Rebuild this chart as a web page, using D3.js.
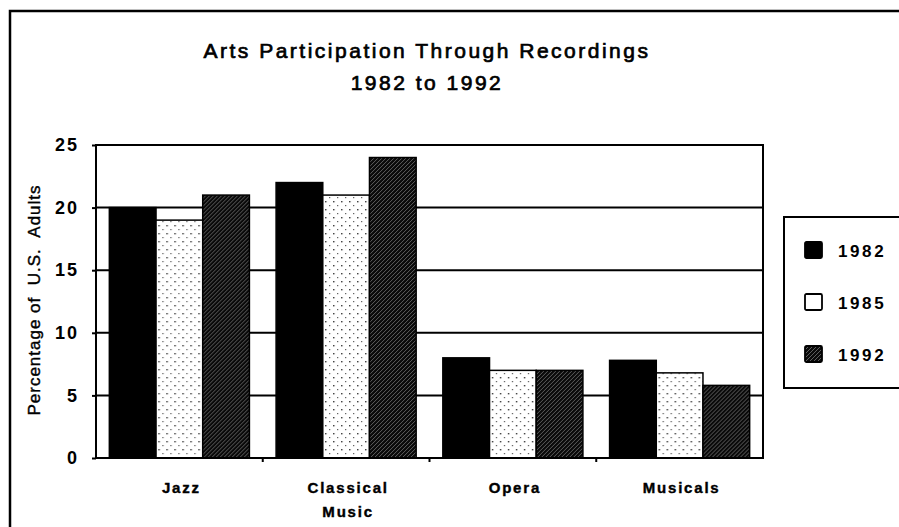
<!DOCTYPE html>
<html>
<head>
<meta charset="utf-8">
<script src="https://cdn.jsdelivr.net/npm/d3@7"></script>
<style>
  body { margin:0; background:white; }
  svg { display:block; }
  text { font-family:"Liberation Sans", Arial, sans-serif; fill:black; }
</style>
</head>
<body>
<svg id="chart"></svg>
<script>
var categories = ['Jazz', 'Classical Music', 'Opera', 'Musicals']
var years = ['1982', '1985', '1992']
var v1982 = [20, 22, 8, 7.8]
var v1985 = [19, 21, 7, 6.8]
var v1992 = [21, 24, 7, 5.8]
var yTicks = [0, 5, 10, 15, 20, 25]
var titleLines = ['Arts Participation Through Recordings', '1982 to 1992']
var yLabel = 'Percentage of  U.S.  Adults'

var width = 899, height = 527
var plot = {left:96, right:763, top:145, bottom:458}

var series = [v1982, v1985, v1992]
var fills = ['black', 'url(#dots)', 'url(#hatch)']

var svg = d3.select('#chart').attr('width', width).attr('height', height)

// patterns for the scanned fills
var defs = svg.append('defs')
var dots = defs.append('pattern').attr('id','dots')
  .attr('patternUnits','userSpaceOnUse').attr('width',8).attr('height',8)
dots.append('rect').attr('width',8).attr('height',8).attr('fill','white')
dots.append('rect').attr('x',1).attr('y',1).attr('width',1.4).attr('height',1.4).attr('fill','#333')
dots.append('rect').attr('x',5).attr('y',5).attr('width',1.2).attr('height',1.2).attr('fill','#555')

var hatch = defs.append('pattern').attr('id','hatch')
  .attr('patternUnits','userSpaceOnUse').attr('width',4).attr('height',4)
hatch.append('rect').attr('width',4).attr('height',4).attr('fill','#0a0a0a')
hatch.append('path').attr('d','M-1,1 l2,-2 M0,4 l4,-4 M3,5 l2,-2')
  .attr('stroke','#999').attr('stroke-width',0.6)

// outer frame of the page
svg.append('path')
  .attr('d','M10,' + height + ' V11 H' + width)
  .attr('fill','none').attr('stroke','black').attr('stroke-width',2.5)

// scales
var x0 = d3.scaleBand().domain(categories).range([plot.left, plot.right])
  .paddingInner(0.16).paddingOuter(0.08)
var x1 = d3.scaleBand().domain(years).range([0, x0.bandwidth()])
var y = d3.scaleLinear().domain([0, 25]).range([plot.bottom, plot.top])

// title
svg.append('g').selectAll('text').data(titleLines).enter().append('text')
  .attr('x', 427).attr('y', function(d,i){return 58 + i*32})
  .attr('text-anchor','middle')
  .style('font-size','21px').style('letter-spacing','2.5px')
  .attr('stroke','black').attr('stroke-width',0.7)
  .text(function(d){return d})

// gridlines
svg.append('g').selectAll('line').data(yTicks.filter(function(d){return d>0 && d<25}))
  .enter().append('line')
  .attr('x1', plot.left).attr('x2', plot.right)
  .attr('y1', function(d){return y(d)}).attr('y2', function(d){return y(d)})
  .attr('stroke','black').attr('stroke-width',2)

// bars
var groups = svg.append('g').selectAll('g').data(categories).enter().append('g')
  .attr('transform', function(d){return 'translate(' + x0(d) + ',0)'})

groups.selectAll('rect')
  .data(function(d,i){return series.map(function(s,j){return {year:years[j], value:s[i], fill:fills[j]}})})
  .enter().append('rect')
  .attr('x', function(d){return x1(d.year)})
  .attr('y', function(d){return y(d.value)})
  .attr('width', x1.bandwidth())
  .attr('height', function(d){return y(0) - y(d.value)})
  .attr('fill', function(d){return d.fill})
  .attr('stroke','black').attr('stroke-width',1.5)

// plot frame
svg.append('rect')
  .attr('x', plot.left).attr('y', plot.top)
  .attr('width', plot.right - plot.left).attr('height', plot.bottom - plot.top)
  .attr('fill','none').attr('stroke','black').attr('stroke-width',2)

// y axis
var yAxis = svg.append('g')
  .attr('transform','translate(' + plot.left + ',0)')
  .call(d3.axisLeft(y).tickValues(yTicks).tickSize(4).tickPadding(13))
yAxis.select('.domain').remove()
yAxis.selectAll('line').attr('stroke','black').attr('stroke-width',2)
yAxis.selectAll('text')
  .style('font-family','"Liberation Sans", Arial, sans-serif')
  .style('font-size','18px').style('font-weight','bold').style('letter-spacing','2px')

// x ticks between categories
var xb = svg.append('g')
  .attr('transform','translate(0,' + plot.bottom + ')')
  .call(d3.axisBottom(x0).tickSize(0).tickPadding(0))
xb.select('.domain').remove()
xb.selectAll('.tick text').remove()
xb.selectAll('.sep').data(categories.slice(1)).enter().append('line')
  .attr('x1', function(d){return x0(d) - x0.step()*x0.paddingInner()/2})
  .attr('x2', function(d){return x0(d) - x0.step()*x0.paddingInner()/2})
  .attr('y1', 0).attr('y2', 4)
  .attr('stroke','black').attr('stroke-width',2)

// category labels, one word per line
svg.append('g').selectAll('text').data(categories).enter().append('text')
  .attr('x', function(d){return x0(d) + x0.bandwidth()/2 + 2})
  .attr('y', 493)
  .attr('text-anchor','middle')
  .style('font-size','15px').style('font-weight','bold').style('letter-spacing','1.8px')
  .attr('stroke','black').attr('stroke-width',0.4)
  .each(function(d){
    var t = d3.select(this)
    d.split(' ').forEach(function(w,i){
      t.append('tspan').attr('x', x0(d) + x0.bandwidth()/2 + 2).attr('dy', i ? 24 : 0).text(w)
    })
  })

// y axis label
svg.append('text')
  .attr('transform','translate(40,300) rotate(-90)')
  .attr('text-anchor','middle')
  .style('font-size','17px').style('white-space','pre').style('letter-spacing','1px')
  .attr('stroke','black').attr('stroke-width',0.4)
  .text(yLabel)

// legend
var legend = svg.append('g')
legend.append('rect')
  .attr('x',784).attr('y',217).attr('width',140).attr('height',171)
  .attr('fill','white').attr('stroke','black').attr('stroke-width',2)
var items = legend.selectAll('g').data(years).enter().append('g')
  .attr('transform', function(d,i){return 'translate(805,' + (242 + i*52) + ')'})
items.append('rect')
  .attr('width',17).attr('height',16).attr('rx',1.5)
  .attr('fill', function(d,i){return i==1 ? 'white' : fills[i]})
  .attr('stroke','black').attr('stroke-width',1.8)
items.append('text')
  .attr('x',33).attr('y',15)
  .style('font-size','17px').style('font-weight','bold').style('letter-spacing','2.6px')
  .text(function(d){return d})
</script>
</body>
</html>
